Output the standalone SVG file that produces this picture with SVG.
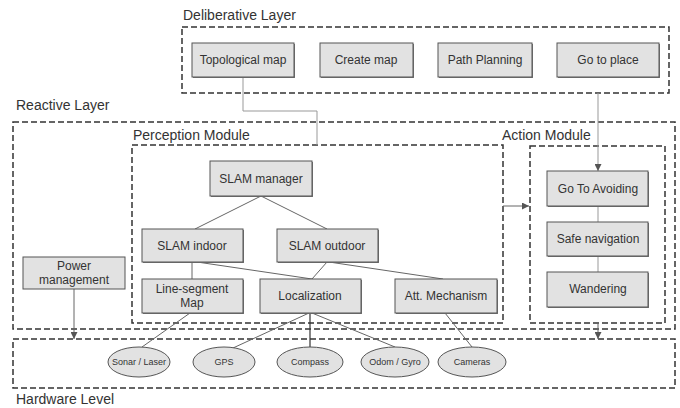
<svg xmlns="http://www.w3.org/2000/svg" width="680" height="408" viewBox="0 0 680 408">
<defs>
<style>
.lbl{font-family:"Liberation Sans",Arial,sans-serif;font-size:14px;fill:#333}
.t{font-family:"Liberation Sans",Arial,sans-serif;font-size:12px;fill:#333;text-anchor:middle}
.s{font-family:"Liberation Sans",Arial,sans-serif;font-size:9px;fill:#333;text-anchor:middle}
.dash{fill:none;stroke:#333;stroke-width:1.5;stroke-dasharray:6 3}
.box{fill:#e2e2e2;stroke:#555;stroke-width:1}
.sh{fill:#777}
.ell{fill:#e2e2e2;stroke:#555;stroke-width:1}
.c{fill:none;stroke:#666;stroke-width:1}
.cl{fill:none;stroke:#999;stroke-width:1}
</style>
<marker id="ah" viewBox="0 0 10 10" refX="10" refY="5" markerWidth="7" markerHeight="7" orient="auto-start-reverse" markerUnits="userSpaceOnUse">
<path d="M0,0 L10,5 L0,10 z" fill="#555"/>
</marker>
</defs>
<rect width="680" height="408" fill="#fff"/>

<g id="layers">
<text class="lbl" x="183" y="20">Deliberative Layer</text>
<rect class="dash" x="182" y="27" width="487" height="66"/>
<text class="lbl" x="16" y="110">Reactive Layer</text>
<rect class="dash" x="13" y="122" width="662" height="207"/>
<text class="lbl" x="133" y="140">Perception Module</text>
<rect class="dash" x="132" y="145" width="371" height="178"/>
<text class="lbl" x="502" y="140">Action Module</text>
<rect class="dash" x="530" y="146" width="135" height="177"/>
<rect class="dash" x="13" y="339" width="662" height="49"/>
<text class="lbl" x="16" y="404">Hardware Level</text>
</g>

<g id="connectors">
<polyline class="cl" points="243,77 243,111 317,111 317,145"/>
<line class="cl" x1="598" y1="93" x2="598" y2="171" marker-end="url(#ah)"/>
<line class="c" x1="503" y1="206" x2="529" y2="206" marker-end="url(#ah)"/>
<line class="cl" x1="598" y1="206" x2="598" y2="222"/>
<line class="cl" x1="598" y1="256" x2="598" y2="272"/>
<line class="c" x1="261" y1="196" x2="195" y2="229"/>
<line class="c" x1="261" y1="196" x2="327" y2="229"/>
<line class="c" x1="192" y1="262" x2="192" y2="279"/>
<line class="c" x1="197" y1="262" x2="312" y2="279"/>
<line class="c" x1="327" y1="262" x2="312" y2="279"/>
<line class="c" x1="329" y1="262" x2="443" y2="279"/>
<line class="c" x1="74" y1="289" x2="74" y2="339" marker-end="url(#ah)"/>
<line class="c" x1="598" y1="323" x2="598" y2="339" marker-end="url(#ah)"/>
<line class="c" x1="190" y1="313" x2="142" y2="347"/>
<line class="c" x1="309" y1="313" x2="233" y2="348"/>
<line x1="310" y1="313" x2="310" y2="347" stroke="#333" stroke-width="1.2"/>
<line class="c" x1="312" y1="313" x2="395" y2="347"/>
<line class="c" x1="445" y1="313" x2="472" y2="347"/>
</g>

<g id="topological-map"><rect class="sh" x="193" y="44" width="102" height="34"/><rect class="box" x="192" y="43" width="102" height="34"/><text class="t" x="243" y="64">Topological map</text></g>
<g id="create-map"><rect class="sh" x="321" y="44" width="93" height="34"/><rect class="box" x="320" y="43" width="93" height="34"/><text class="t" x="366" y="64">Create map</text></g>
<g id="path-planning"><rect class="sh" x="439" y="44" width="94" height="34"/><rect class="box" x="438" y="43" width="94" height="34"/><text class="t" x="485" y="64">Path Planning</text></g>
<g id="go-to-place"><rect class="sh" x="558" y="44" width="102" height="34"/><rect class="box" x="557" y="43" width="102" height="34"/><text class="t" x="608" y="64">Go to place</text></g>

<g id="slam-manager"><rect class="sh" x="211" y="162" width="102" height="35"/><rect class="box" x="210" y="161" width="102" height="35"/><text class="t" x="261" y="183">SLAM manager</text></g>
<g id="slam-indoor"><rect class="sh" x="143" y="230" width="101" height="33"/><rect class="box" x="142" y="229" width="101" height="33"/><text class="t" x="192" y="250">SLAM indoor</text></g>
<g id="slam-outdoor"><rect class="sh" x="278" y="230" width="101" height="33"/><rect class="box" x="277" y="229" width="101" height="33"/><text class="t" x="327" y="250">SLAM outdoor</text></g>
<g id="line-segment-map"><rect class="sh" x="143" y="280" width="101" height="34"/><rect class="box" x="142" y="279" width="101" height="34"/><text class="t" x="192" y="293">Line-segment</text><text class="t" x="192" y="307">Map</text></g>
<g id="localization"><rect class="sh" x="261" y="280" width="101" height="34"/><rect class="box" x="260" y="279" width="101" height="34"/><text class="t" x="310" y="300">Localization</text></g>
<g id="att-mechanism"><rect class="sh" x="396" y="280" width="102" height="34"/><rect class="box" x="395" y="279" width="102" height="34"/><text class="t" x="446" y="300">Att. Mechanism</text></g>

<g id="go-to-avoiding"><rect class="sh" x="548" y="172" width="101" height="35"/><rect class="box" x="547" y="171" width="101" height="35"/><text class="t" x="598" y="193">Go To Avoiding</text></g>
<g id="safe-navigation"><rect class="sh" x="548" y="223" width="101" height="34"/><rect class="box" x="547" y="222" width="101" height="34"/><text class="t" x="598" y="243">Safe navigation</text></g>
<g id="wandering"><rect class="sh" x="548" y="273" width="101" height="35"/><rect class="box" x="547" y="272" width="101" height="35"/><text class="t" x="598" y="293">Wandering</text></g>

<g id="power-management"><rect class="box" x="23" y="257" width="102" height="32"/><text class="t" x="74" y="270">Power</text><text class="t" x="74" y="284">management</text></g>

<g id="sonar-laser"><ellipse class="ell" cx="139" cy="362" rx="31" ry="15"/><text class="s" x="139" y="365">Sonar / Laser</text></g>
<g id="gps"><ellipse class="ell" cx="224" cy="362" rx="31" ry="15"/><text class="s" x="224" y="365">GPS</text></g>
<g id="compass"><ellipse class="ell" cx="310" cy="362" rx="33" ry="15"/><text class="s" x="310" y="365">Compass</text></g>
<g id="odom-gyro"><ellipse class="ell" cx="395" cy="362" rx="34" ry="15"/><text class="s" x="395" y="365">Odom / Gyro</text></g>
<g id="cameras"><ellipse class="ell" cx="472" cy="362" rx="34" ry="15"/><text class="s" x="472" y="365">Cameras</text></g>
</svg>
